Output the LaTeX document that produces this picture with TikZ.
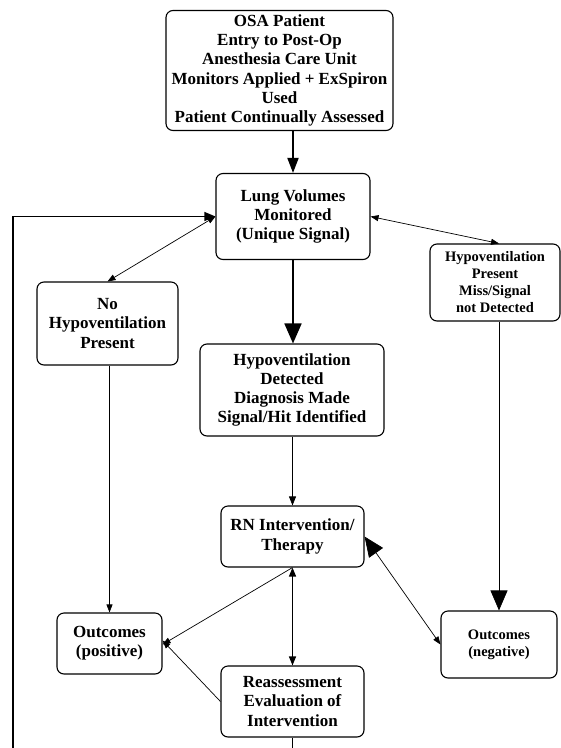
\documentclass[tikz,border=0pt]{standalone}
\usepackage{fontspec}
\setmainfont{Liberation Serif}
\usetikzlibrary{arrows.meta}
\begin{document}
\begin{tikzpicture}[x=1pt,y=-1pt,
  box/.style={draw, line width=1.1pt, rounded corners=7pt, align=center, inner sep=1pt,
    font=\fontsize{17}{19.3}\selectfont\bfseries},
  sbox/.style={box, font=\fontsize{14.5}{17}\selectfont\bfseries},
  thin/.style={line width=0.7pt},
  thick/.style={line width=1.8pt},
  big/.style={-{Triangle[length=20pt,width=17pt]}},
  med/.style={-{Triangle[length=9pt,width=7pt]}}
]
\useasboundingbox (0,0) rectangle (561,748);
\node[box, minimum width=227pt, minimum height=120pt] (top) at (279.5,70.5)
  {OSA Patient\\Entry to Post-Op\\Anesthesia Care Unit\\Monitors Applied + ExSpiron\\Used\\Patient Continually Assessed};
\node[box, minimum width=154pt, minimum height=86pt] (lung) at (293,216.5)
  {Lung Volumes\\Monitored\\(Unique Signal)};
\node[box, minimum width=141pt, minimum height=83pt] (nohypo) at (107.5,323.5)
  {No\\Hypoventilation\\Present};
\node[box, minimum width=184pt, minimum height=92pt] (hypodet) at (292,390)
  {Hypoventilation\\Detected\\Diagnosis Made\\Signal/Hit Identified};
\node[sbox, minimum width=130pt, minimum height=77pt] (hypopres) at (495,282.5)
  {Hypoventilation\\Present\\Miss/Signal\\not Detected};
\node[box, minimum width=143pt, minimum height=61pt] (rn) at (292.5,536.5)
  {RN Intervention/\\Therapy};
\node[box, minimum width=105pt, minimum height=61pt] (outpos) at (109.5,643.5)
  {Outcomes\\(positive)};
\node[box, minimum width=143pt, minimum height=71pt] (reass) at (292.5,701.5)
  {Reassessment\\Evaluation of\\Intervention};
\node[sbox, minimum width=116pt, minimum height=67pt] (outneg) at (499,644.5)
  {Outcomes\\(negative)};
\coordinate (loopbot) at (13,765);

\draw[thick, -{Triangle[length=15pt,width=11pt]}] (lung.north |- top.south) -- (lung.north);
\draw[thin, {Triangle[length=8pt,width=6pt]}-{Triangle[length=8pt,width=6pt]}] (lung.west) -- (nohypo.north);
\draw[thin, {Triangle[length=8pt,width=6pt]}-{Triangle[length=8pt,width=6pt]}] (lung.east) -- ([xshift=4pt]hypopres.north);
\draw[thick, big] (lung.south) -- (lung.south |- hypodet.north);
\draw[thin, med] (rn.north |- hypodet.south) -- (rn.north);
\draw[thin, -{Triangle[length=8pt,width=6pt]}] (outpos.north |- nohypo.south) -- (outpos.north);
\draw[thin, big] (outneg.north |- hypopres.south) -- (outneg.north);
\draw[line width=1.3pt, {Triangle[length=9pt,width=7pt]}-{Triangle[length=9pt,width=7pt]}] (rn.south) -- (reass.north);
\draw[thin, -{Triangle[length=8pt,width=6pt]}] (rn.south) -- ([yshift=-1pt]outpos.east);
\draw[thin, -{Triangle[length=8pt,width=6pt]}] (reass.west) -- ([yshift=3pt]outpos.east);
\draw[thin, {Triangle[length=20pt,width=17pt]}-{Triangle[length=8pt,width=6pt]}] (rn.east) -- (outneg.west);
\draw[line width=1.1pt, -{Triangle[length=11pt,width=9pt]}] (reass.south) |- (loopbot) |- (lung.west);
\end{tikzpicture}
\end{document}
